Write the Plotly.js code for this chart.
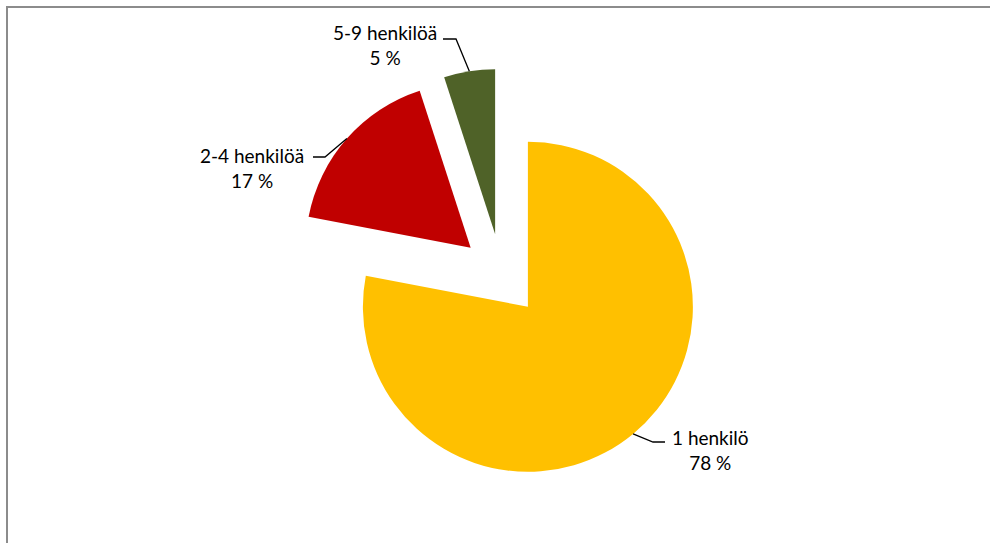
<!DOCTYPE html>
<html>
<head>
<meta charset="utf-8">
<script src="https://cdn.plot.ly/plotly-3.0.1.min.js"></script>
<style>
  html, body { margin: 0; padding: 0; background: #fff; }
  #chart { width: 990px; height: 543px; }
</style>
</head>
<body>
<div id="chart"></div>
<script>
// ---- data ----
const categories = ["1 henkilö", "2-4 henkilöä", "5-9 henkilöä"];
const shares = [78, 17, 5];
const valueLabels = ["78 %", "17 %", "5 %"];
const colors = ["#FFC000", "#C00000", "#4F6228"];

// ---- layout constants ----
const W = 990, H = 543;
const PULL = 0.25;
const domX = [0.29833, 0.71500];
const domY = [0.11372, 0.87339];
// label placement (pixels): text centre, elbow point, end of short horizontal tick
const labelPos = [
  { tx: 710, ty: 450, ex: 653, ey: 442, hx: 665 },
  { tx: 252, ty: 168, ex: 325, ey: 157, hx: 313 },
  { tx: 385, ty: 45,  ex: 456, ey: 39,  hx: 443 }
];

// geometry derived the same way plotly sizes a pie
const boxW = W * (domX[1] - domX[0]);
const boxH = H * (domY[1] - domY[0]);
const r = Math.min(boxW, boxH) / (2 + 2 * PULL);
const cx = W * (domX[0] + domX[1]) / 2;
const cy = H * (1 - domY[0]) - boxH / 2;
const total = shares.reduce((a, b) => a + b, 0);

const px = x => x / W;
const py = y => 1 - y / H;

const shapes = [];
const annotations = [];
let start = 0;
shares.forEach((v, i) => {
  const span = 360 * v / total;
  const mid = (start + span / 2) * Math.PI / 180;
  start += span;
  const ax = cx + (1 + PULL) * r * Math.sin(mid);
  const ay = cy - (1 + PULL) * r * Math.cos(mid);
  const L = labelPos[i];
  shapes.push({
    type: "path", xref: "paper", yref: "paper",
    path: `M ${px(ax)} ${py(ay)} L ${px(L.ex)} ${py(L.ey)} L ${px(L.hx)} ${py(L.ey)}`,
    line: { color: "#000000", width: 1.3 }
  });
  annotations.push({
    xref: "paper", yref: "paper", x: px(L.tx), y: py(L.ty),
    xanchor: "center", yanchor: "middle", showarrow: false, align: "center",
    text: categories[i] + "<br>" + valueLabels[i],
    font: { family: "Lato, 'Open Sans', sans-serif", size: 19, color: "#000000" }
  });
});

// chart frame (top and left edges visible)
shapes.push({
  type: "path", xref: "paper", yref: "paper",
  path: `M ${px(7)} 0 L ${px(7)} ${py(7)} L 1 ${py(7)}`,
  line: { color: "#8c8c8c", width: 2 }
});

const trace = {
  type: "pie",
  labels: categories,
  values: shares,
  sort: false,
  direction: "clockwise",
  rotation: 0,
  pull: PULL,
  marker: { colors: colors, line: { width: 0 } },
  textinfo: "none",
  hoverinfo: "skip",
  domain: { x: domX, y: domY },
  showlegend: false
};

Plotly.newPlot("chart", [trace], {
  width: W, height: H,
  margin: { l: 0, r: 0, t: 0, b: 0 },
  paper_bgcolor: "#ffffff",
  showlegend: false,
  shapes: shapes,
  annotations: annotations
}, { displayModeBar: false, staticPlot: true });
</script>
</body>
</html>
